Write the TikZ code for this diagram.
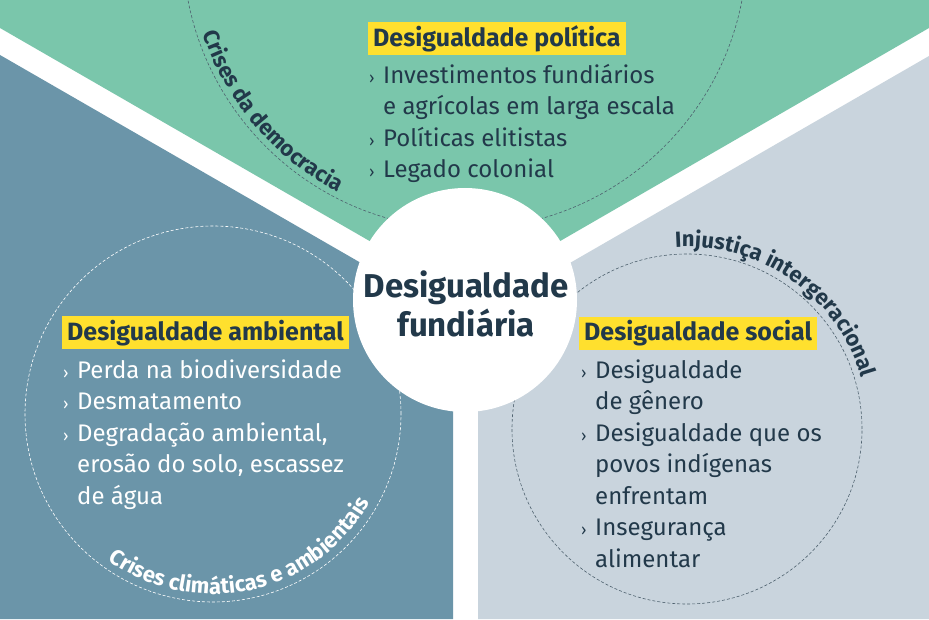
\documentclass[tikz,border=0pt]{standalone}
\usepackage{fontspec}
\setmainfont{Fira Sans}
\usetikzlibrary{decorations.text}
\definecolor{polgreen}{HTML}{7AC6AB}
\definecolor{envblue}{HTML}{6B95A9}
\definecolor{socgray}{HTML}{C9D4DD}
\definecolor{inkdark}{HTML}{22394A}
\definecolor{tagyellow}{HTML}{FFE02E}
\newcommand{\bul}{\makebox[14pt][l]{\fontsize{16}{16}\selectfont›}}
\newcommand{\ind}{\hspace*{14pt}}
\newcommand{\arcfont}{\bfseries\fontsize{22}{22}\selectfont}
\tikzset{
  tag/.style={fill=tagyellow, text=inkdark, font=\bfseries\fontsize{25}{25}\selectfont,
    inner xsep=5pt, inner ysep=0pt, minimum height=33pt, anchor=west},
  items/.style={align=left, anchor=base west, inner sep=0pt,
    font=\fontsize{24}{31.5}\selectfont},
  arctext/.style={decorate, decoration={text along path, text align=center, text color=#1}},
  ring/.style={dashed, line width=0.6pt, dash pattern=on 3pt off 2pt}
}
\begin{document}
\begin{tikzpicture}[x=1pt,y=1pt]
\useasboundingbox (0,0) rectangle (929,619);
\clip (0,0) rectangle (929,619);
\fill[white] (0,0) rectangle (929,619);
% three sectors
\fill[polgreen] (0,591) -- (465,323) -- (929,591) -- (929,619) -- (0,619) -- cycle;
\fill[envblue] (0,0) -- (453,0) -- (453,303) -- (0,564) -- cycle;
\fill[socgray] (478,0) -- (929,0) -- (929,563) -- (478,303) -- cycle;
% dashed rings
\draw[ring, inkdark!80] (465,672) circle[radius=282];
\draw[ring, white] (213,205) circle[radius=188];
\draw[ring, inkdark!80] (687,190) circle[radius=175];
% ring labels
\path[arctext=inkdark, decoration={text={|\arcfont|Crises da democracia}}]
  (465,672) ++(188:276) arc[start angle=188, end angle=253, radius=276];
\path[arctext=white, decoration={text={|\arcfont|Crises climáticas e ambientais}}]
  (213,205) ++(215:180) arc[start angle=215, end angle=350, radius=180];
\path[arctext=inkdark, decoration={text={|\arcfont|Injustiça intergeracional}}]
  (687,190) ++(118:182) arc[start angle=118, end angle=-8, radius=182];
% centre
\node[circle, fill=white, minimum size=224pt, inner sep=0pt] (hub) at (465,319) {};
\node[align=center, anchor=base, text=inkdark, font=\bfseries\fontsize{33}{39}\selectfont] (hubtext) at (466,282)
  {Desigualdade\\fundiária};
% political
\node[tag] (poltag) at (368,580.5) {Desigualdade política};
\node[items, text=inkdark] (pollist) at (369,441)
  {\bul Investimentos fundiários\\
   \ind e agrícolas em larga escala\\
   \bul Políticas elitistas\\
   \bul Legado colonial};
% environmental
\node[tag] (envtag) at (62,286) {Desigualdade ambiental};
\node[items, text=white] (envlist) at (63,115)
  {\bul Perda na biodiversidade\\
   \bul Desmatamento\\
   \bul Degradação ambiental,\\
   \ind erosão do solo, escassez\\
   \ind de água};
% social
\node[tag] (soctag) at (579,285.5) {Desigualdade social};
\node[items, text=inkdark] (soclist) at (581,52)
  {\bul Desigualdade\\
   \ind de gênero\\
   \bul Desigualdade que os\\
   \ind povos indígenas\\
   \ind enfrentam\\
   \bul Insegurança\\
   \ind alimentar};
\end{tikzpicture}
\end{document}
